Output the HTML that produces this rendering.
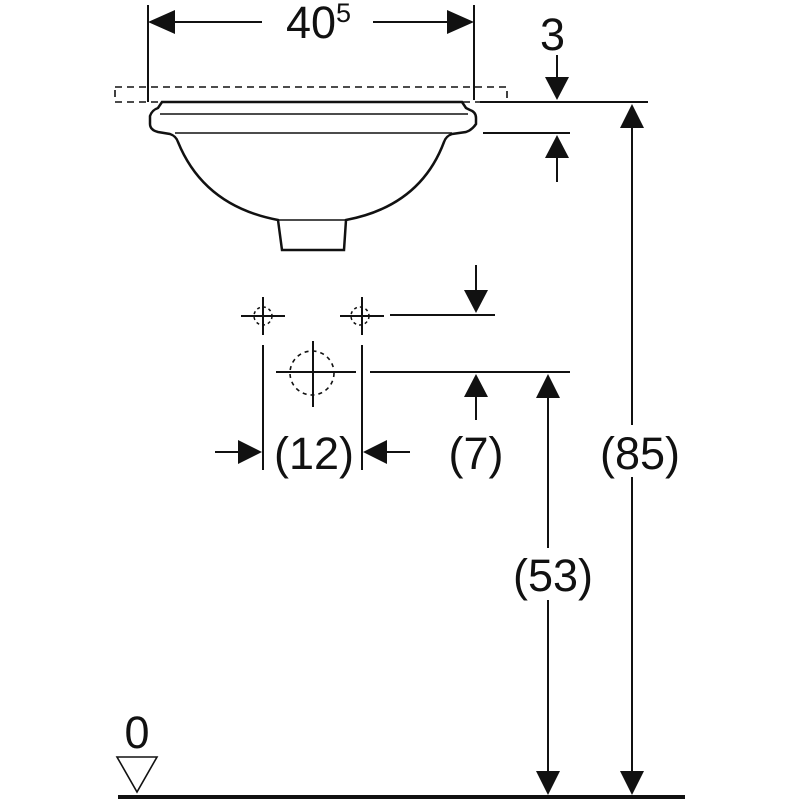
<!DOCTYPE html>
<html><head><style>body{margin:0;background:#fff}svg{display:block}</style></head><body>
<svg width="800" height="800" viewBox="0 0 800 800" xmlns="http://www.w3.org/2000/svg" font-family="Liberation Sans, sans-serif">
<g stroke="#111" stroke-width="2" fill="none">
<line x1="148" y1="5" x2="148" y2="102"/>
<line x1="474" y1="5" x2="474" y2="100"/>
<line x1="175" y1="22" x2="262" y2="22"/>
<line x1="373" y1="22" x2="450" y2="22"/>
<rect x="115" y="87" width="392" height="15" stroke-dasharray="7,5" stroke-width="1.6"/>
<path d="M162,102 L462,102 L466,108 L470,110 Q476,112 476,118 L476,124 Q472,130 466,132 L452,134 Q446,136 444,142 Q420,206 346,220 L344,250 L282,250 L278,220 Q204,206 178,142 Q176,136 170,134 L158,132 Q150,130 150,124 L150,116 Q152,110 158,108 Z" stroke-width="2.5"/>
<line x1="160" y1="114" x2="468" y2="114" stroke-width="1.5"/>
<line x1="175" y1="133" x2="452" y2="133" stroke-width="1.5"/>
<line x1="278" y1="220" x2="346" y2="220" stroke-width="1.5"/>
<line x1="480" y1="102" x2="648" y2="102"/>
<line x1="483" y1="133" x2="570" y2="133"/>
<line x1="557" y1="55" x2="557" y2="80"/>
<line x1="557" y1="155" x2="557" y2="182"/>
<line x1="632" y1="125" x2="632" y2="775"/>
<line x1="548" y1="395" x2="548" y2="775"/>
<line x1="370" y1="372" x2="570" y2="372"/>
<line x1="390" y1="315" x2="495" y2="315"/>
<line x1="476" y1="265" x2="476" y2="292"/>
<line x1="476" y1="395" x2="476" y2="420"/>
<line x1="241" y1="316" x2="285" y2="316"/><line x1="263" y1="297" x2="263" y2="335"/>
<circle cx="263" cy="316" r="9" stroke-dasharray="3,3" stroke-width="1.5"/>
<line x1="340" y1="316" x2="384" y2="316"/><line x1="362" y1="297" x2="362" y2="335"/>
<circle cx="360" cy="316" r="9" stroke-dasharray="3,3" stroke-width="1.5"/>
<line x1="276" y1="372" x2="356" y2="372"/><line x1="313" y1="341" x2="313" y2="407"/>
<circle cx="312" cy="373" r="22" stroke-dasharray="4,4" stroke-width="1.6"/>
<line x1="263" y1="345" x2="263" y2="470"/>
<line x1="362" y1="345" x2="362" y2="470"/>
<line x1="215" y1="452" x2="240" y2="452"/>
<line x1="385" y1="452" x2="410" y2="452"/>
<line x1="118" y1="797" x2="685" y2="797" stroke-width="4"/>
<path d="M117,757 L157,757 L137,792 Z" stroke-width="1.6"/>
</g>
<g fill="#111">
<path d="M148,22 L175,10 L175,34 Z"/>
<path d="M474,22 L447,10 L447,34 Z"/>
<path d="M557,100 L545,77 L569,77 Z"/>
<path d="M557,135 L545,158 L569,158 Z"/>
<path d="M632,104 L620,128 L644,128 Z"/>
<path d="M632,795 L620,771 L644,771 Z"/>
<path d="M548,374 L536,398 L560,398 Z"/>
<path d="M548,795 L536,771 L560,771 Z"/>
<path d="M476,313 L464,290 L488,290 Z"/>
<path d="M476,374 L464,397 L488,397 Z"/>
<path d="M262,452 L238,440 L238,464 Z"/>
<path d="M363,452 L387,440 L387,464 Z"/>
</g>
<rect x="598" y="425" width="84" height="52" fill="#fff"/>
<rect x="512" y="548" width="82" height="52" fill="#fff"/>
<g fill="#111" font-size="45">
<text x="286" y="38">40</text><text x="336" y="22" font-size="27">5</text>
<text x="540" y="50">3</text>
<text x="314" y="469" text-anchor="middle">(12)</text>
<text x="476" y="469" text-anchor="middle">(7)</text>
<text x="640" y="469" text-anchor="middle">(85)</text>
<text x="553" y="591" text-anchor="middle">(53)</text>
<text x="137" y="748" text-anchor="middle">0</text>
</g>
</svg>
</body></html>
